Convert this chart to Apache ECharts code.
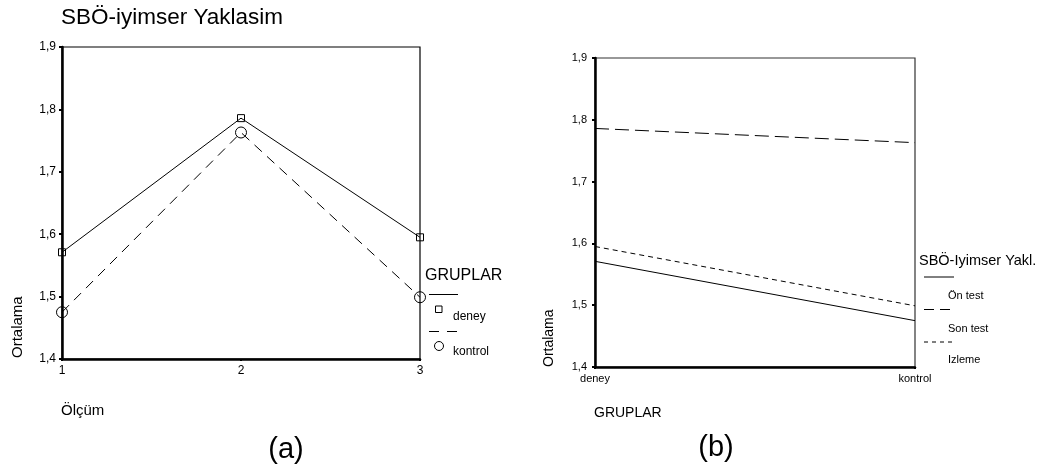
<!DOCTYPE html>
<html>
<head>
<meta charset="utf-8">
<script src="https://cdn.jsdelivr.net/npm/echarts@6/dist/echarts.min.js"></script>
<style>
  html, body { margin: 0; padding: 0; background: #fff; }
  #chart { width: 1040px; height: 470px; }
</style>
</head>
<body>
<div id="chart"></div>
<script>
// Group means of the optimistic-approach scale (SBÖ) at three measurements
const measurements = ['1', '2', '3'];
const groups = ['deney', 'kontrol'];
const deneyMeans = [1.571, 1.786, 1.595];
const kontrolMeans = [1.475, 1.763, 1.499];
const phaseNames = ['Ön test', 'Son test', 'Izleme'];
const yTicks = [1.4, 1.5, 1.6, 1.7, 1.8, 1.9];

// Panel (b): one line per measurement phase across the two groups
const phaseSeries = phaseNames.map((n, i) => [deneyMeans[i], kontrolMeans[i]]);

const FONT = '"Liberation Sans", Arial, sans-serif';
const INK = '#000';
const fmt = v => v.toFixed(1).replace('.', ',');

function valueAxis(gridIndex, fontSize, margin) {
  return {
    type: 'value', gridIndex,
    min: yTicks[0], max: yTicks[yTicks.length - 1], interval: 0.1,
    axisLine: { show: true, lineStyle: { color: INK, width: 2.5 } },
    axisTick: { show: true, length: 3, lineStyle: { color: INK, width: 2 } },
    axisLabel: { color: INK, fontFamily: FONT, fontSize, margin, formatter: fmt },
    splitLine: { show: false }
  };
}

function categoryAxis(gridIndex, data, fontSize, margin) {
  return {
    type: 'category', gridIndex, data, boundaryGap: false,
    axisLine: { show: true, lineStyle: { color: INK, width: 2.5 } },
    axisTick: { show: true, length: 2, lineStyle: { color: INK, width: 2 } },
    axisLabel: { color: INK, fontFamily: FONT, fontSize, margin },
    splitLine: { show: false }
  };
}

const dashGroup = [10, 7];
const dashSon = [14, 6];
const dashIzleme = [5, 4];

const option = {
  backgroundColor: '#fff',
  animation: false,
  grid: [
    { left: 62, top: 47, width: 358, height: 312, show: true, borderColor: INK, borderWidth: 1.2 },
    { left: 595, top: 58, width: 320, height: 309, show: true, borderColor: '#333', borderWidth: 1.2 }
  ],
  xAxis: [
    categoryAxis(0, measurements, 12, 6),
    categoryAxis(1, groups, 11, 6)
  ],
  yAxis: [
    valueAxis(0, 12, 6),
    valueAxis(1, 11, 8)
  ],
  series: [
    {
      name: groups[0], type: 'line', xAxisIndex: 0, yAxisIndex: 0, data: deneyMeans,
      symbol: 'rect', symbolSize: 7,
      lineStyle: { color: INK, width: 1 },
      itemStyle: { color: 'rgba(0,0,0,0)', borderColor: INK, borderWidth: 1 }
    },
    {
      name: groups[1], type: 'line', xAxisIndex: 0, yAxisIndex: 0, data: kontrolMeans,
      symbol: 'circle', symbolSize: 11,
      lineStyle: { color: INK, width: 1, type: dashGroup },
      itemStyle: { color: 'rgba(0,0,0,0)', borderColor: INK, borderWidth: 1 }
    },
    {
      name: phaseNames[0], type: 'line', xAxisIndex: 1, yAxisIndex: 1, data: phaseSeries[0],
      symbol: 'none', lineStyle: { color: INK, width: 1 }
    },
    {
      name: phaseNames[1], type: 'line', xAxisIndex: 1, yAxisIndex: 1, data: phaseSeries[1],
      symbol: 'none', lineStyle: { color: INK, width: 1, type: dashSon }
    },
    {
      name: phaseNames[2], type: 'line', xAxisIndex: 1, yAxisIndex: 1, data: phaseSeries[2],
      symbol: 'none', lineStyle: { color: INK, width: 1, type: dashIzleme }
    }
  ],
  graphic: [
    // panel (a) titles
    { type: 'text', left: 61, top: 6, style: { text: 'SBÖ-iyimser Yaklasim', font: '22.5px ' + FONT, fill: INK } },
    { type: 'text', x: 18, y: 358, rotation: Math.PI / 2,
      style: { text: 'Ortalama', font: '15px ' + FONT, fill: INK, textAlign: 'left', textVerticalAlign: 'middle' } },
    { type: 'text', x: 61, y: 411, style: { text: 'Ölçüm', font: '15px ' + FONT, fill: INK, textVerticalAlign: 'middle' } },
    { type: 'text', x: 286, y: 450, style: { text: '(a)', font: '29px ' + FONT, fill: INK, textAlign: 'center', textVerticalAlign: 'middle' } },

    // panel (a) legend
    { type: 'text', x: 425, y: 276, style: { text: 'GRUPLAR', font: '16px ' + FONT, fill: INK, textVerticalAlign: 'middle' } },
    { type: 'line', shape: { x1: 429, y1: 294.5, x2: 458, y2: 294.5 }, style: { stroke: INK, lineWidth: 1 } },
    { type: 'rect', shape: { x: 435.5, y: 306, width: 6.5, height: 6.5 }, style: { fill: 'none', stroke: INK, lineWidth: 1 } },
    { type: 'text', x: 453, y: 317, style: { text: 'deney', font: '12px ' + FONT, fill: INK, textVerticalAlign: 'middle' } },
    { type: 'line', shape: { x1: 429, y1: 331.5, x2: 458, y2: 331.5 }, style: { stroke: INK, lineWidth: 1, lineDash: [10, 8] } },
    { type: 'circle', shape: { cx: 439, cy: 346, r: 4.5 }, style: { fill: 'none', stroke: INK, lineWidth: 1 } },
    { type: 'text', x: 453, y: 352, style: { text: 'kontrol', font: '12px ' + FONT, fill: INK, textVerticalAlign: 'middle' } },

    // panel (b) titles
    { type: 'text', x: 549, y: 367, rotation: Math.PI / 2,
      style: { text: 'Ortalama', font: '14px ' + FONT, fill: INK, textAlign: 'left', textVerticalAlign: 'middle' } },
    { type: 'text', x: 594, y: 413, style: { text: 'GRUPLAR', font: '14px ' + FONT, fill: INK, textVerticalAlign: 'middle' } },
    { type: 'text', x: 716, y: 448, style: { text: '(b)', font: '29px ' + FONT, fill: INK, textAlign: 'center', textVerticalAlign: 'middle' } },

    // panel (b) legend
    { type: 'text', x: 919, y: 261, style: { text: 'SBÖ-Iyimser Yakl.', font: '14.5px ' + FONT, fill: INK, textVerticalAlign: 'middle' } },
    { type: 'line', shape: { x1: 924, y1: 277, x2: 954, y2: 277 }, style: { stroke: INK, lineWidth: 1 } },
    { type: 'text', x: 948, y: 296, style: { text: phaseNames[0], font: '11px ' + FONT, fill: INK, textVerticalAlign: 'middle' } },
    { type: 'line', shape: { x1: 924, y1: 309.5, x2: 954, y2: 309.5 }, style: { stroke: INK, lineWidth: 1, lineDash: [10, 6] } },
    { type: 'text', x: 948, y: 329, style: { text: phaseNames[1], font: '11px ' + FONT, fill: INK, textVerticalAlign: 'middle' } },
    { type: 'line', shape: { x1: 924, y1: 342, x2: 954, y2: 342 }, style: { stroke: INK, lineWidth: 1, lineDash: [4, 4] } },
    { type: 'text', x: 948, y: 360, style: { text: phaseNames[2], font: '11px ' + FONT, fill: INK, textVerticalAlign: 'middle' } }
  ]
};

echarts.init(document.getElementById('chart'), null, { renderer: 'canvas' }).setOption(option);
</script>
</body>
</html>
